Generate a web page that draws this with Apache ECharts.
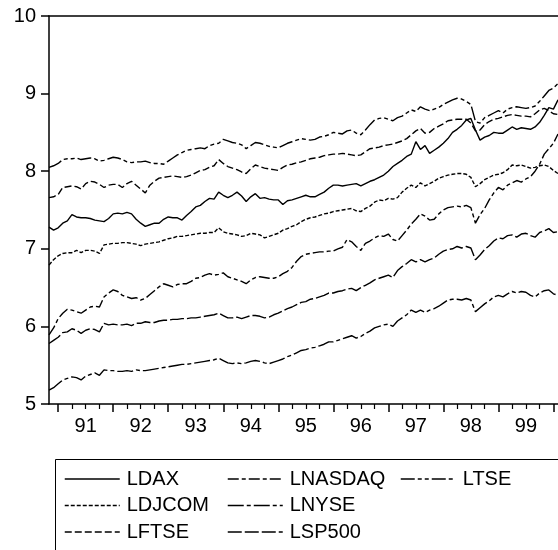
<!DOCTYPE html>
<html>
<head>
<meta charset="utf-8">
<script src="https://cdn.jsdelivr.net/npm/echarts@6/dist/echarts.min.js"></script>
<style>
  html, body { margin: 0; padding: 0; background: #fff; }
  #chart { width: 558px; height: 550px; }
</style>
</head>
<body>
<div id="chart"></div>
<script>
// monthly log index levels, Nov 1990 .. Feb 2000
var startYear = 1990
var startMonth = 11
var yearLabels = ['91', '92', '93', '94', '95', '96', '97', '98', '99']

var LDAX = [
  7.28, 7.24, 7.27, 7.33, 7.36, 7.44, 7.41, 7.40, 7.40, 7.39,
  7.37, 7.36, 7.35, 7.39, 7.45, 7.46, 7.45, 7.47, 7.45, 7.38,
  7.33, 7.29, 7.31, 7.33, 7.33, 7.38, 7.41, 7.40, 7.40, 7.37,
  7.43, 7.48, 7.54, 7.56, 7.61, 7.65, 7.64, 7.73, 7.69, 7.66,
  7.69, 7.73, 7.68, 7.61, 7.67, 7.71, 7.65, 7.66, 7.64, 7.63,
  7.63, 7.57, 7.62, 7.63, 7.65, 7.67, 7.69, 7.67, 7.67, 7.70,
  7.73, 7.78, 7.82, 7.82, 7.81, 7.82, 7.83, 7.84, 7.81, 7.84,
  7.87, 7.89, 7.92, 7.95, 8.00, 8.06, 8.10, 8.14, 8.19, 8.22,
  8.38, 8.28, 8.33, 8.23, 8.27, 8.31, 8.36, 8.42, 8.50, 8.54,
  8.59, 8.66, 8.68, 8.53, 8.40, 8.44, 8.46, 8.50, 8.49, 8.49,
  8.53, 8.57, 8.54, 8.56, 8.55, 8.54, 8.57, 8.63, 8.72, 8.82,
  8.80, 8.92
]
var LDJCOM = [
  6.79, 6.86, 6.91, 6.94, 6.95, 6.95, 6.98, 6.95, 6.98, 6.98,
  6.97, 6.94, 7.05, 7.06, 7.07, 7.07, 7.08, 7.08, 7.07, 7.06,
  7.04, 7.06, 7.07, 7.08, 7.09, 7.11, 7.13, 7.14, 7.16, 7.16,
  7.17, 7.18, 7.19, 7.20, 7.20, 7.21, 7.21, 7.27, 7.22, 7.20,
  7.19, 7.18, 7.16, 7.17, 7.20, 7.19, 7.18, 7.14, 7.16, 7.18,
  7.20, 7.24, 7.26, 7.29, 7.31, 7.35, 7.38, 7.40, 7.41, 7.43,
  7.45, 7.46, 7.48, 7.49, 7.50, 7.51, 7.52, 7.49, 7.48, 7.52,
  7.55, 7.60, 7.63, 7.62, 7.65, 7.64, 7.66, 7.73, 7.78, 7.82,
  7.79, 7.85, 7.81, 7.84, 7.87, 7.91, 7.93, 7.95, 7.96, 7.97,
  7.97, 7.96, 7.92, 7.80, 7.84, 7.89, 7.92, 7.95, 7.96, 7.98,
  8.02, 8.08, 8.07, 8.08, 8.06, 8.04, 8.05, 8.07, 8.08, 8.06,
  8.01, 7.97
]
var LFTSE = [
  7.66, 7.67, 7.70, 7.79, 7.80, 7.81, 7.80, 7.77, 7.84, 7.87,
  7.86, 7.83, 7.79, 7.82, 7.83, 7.83, 7.79, 7.84, 7.87, 7.82,
  7.77, 7.72, 7.82, 7.87, 7.91, 7.92, 7.93, 7.94, 7.93, 7.92,
  7.93, 7.95, 7.98, 8.01, 8.02, 8.05, 8.07, 8.15, 8.10, 8.06,
  8.04, 8.02, 7.99, 7.97, 8.03, 8.08, 8.06, 8.04, 8.03, 8.02,
  8.01, 8.05, 8.08, 8.09, 8.11, 8.12, 8.14, 8.16, 8.17, 8.18,
  8.20, 8.21, 8.22, 8.22, 8.23, 8.22, 8.21, 8.20, 8.21, 8.25,
  8.29, 8.30, 8.31, 8.33, 8.34, 8.35, 8.37, 8.39, 8.42, 8.47,
  8.52, 8.55, 8.49, 8.50, 8.55, 8.58, 8.61, 8.65, 8.66, 8.67,
  8.67, 8.67, 8.62, 8.52, 8.53, 8.60, 8.64, 8.67, 8.68, 8.70,
  8.72, 8.73, 8.72, 8.71, 8.71, 8.70, 8.74, 8.79, 8.81, 8.78,
  8.74, 8.73
]
var LNASDAQ = [
  5.89, 5.98, 6.10, 6.17, 6.22, 6.21, 6.19, 6.17, 6.21, 6.25,
  6.26, 6.25, 6.38, 6.43, 6.47, 6.45, 6.40, 6.38, 6.36, 6.37,
  6.34, 6.36, 6.41, 6.46, 6.51, 6.55, 6.53, 6.51, 6.54, 6.55,
  6.55, 6.58, 6.62, 6.63, 6.66, 6.68, 6.66, 6.67, 6.69, 6.64,
  6.62, 6.60, 6.58, 6.55, 6.60, 6.63, 6.64, 6.63, 6.62, 6.62,
  6.64, 6.68, 6.71, 6.76, 6.84, 6.90, 6.93, 6.94, 6.95, 6.96,
  6.96, 6.97, 6.97, 7.00, 7.02, 7.12, 7.09, 7.03, 6.98, 7.07,
  7.10, 7.14, 7.17, 7.16, 7.19, 7.12, 7.10, 7.17, 7.24, 7.32,
  7.38, 7.45, 7.42, 7.37, 7.38, 7.45, 7.50, 7.53, 7.54, 7.55,
  7.54, 7.56, 7.53, 7.33, 7.44, 7.52, 7.63, 7.72, 7.79, 7.76,
  7.82, 7.85, 7.88, 7.86, 7.90, 7.93, 8.00, 8.09, 8.22, 8.29,
  8.36, 8.48
]
var LNYSE = [
  5.18, 5.21, 5.26, 5.31, 5.33, 5.35, 5.34, 5.31, 5.36, 5.38,
  5.40, 5.37, 5.44, 5.43, 5.43, 5.42, 5.42, 5.43, 5.42, 5.44,
  5.43, 5.43, 5.44, 5.45, 5.46, 5.47, 5.48, 5.49, 5.50, 5.51,
  5.51, 5.52, 5.53, 5.54, 5.55, 5.56, 5.57, 5.59, 5.56, 5.53,
  5.52, 5.53, 5.52, 5.53, 5.55, 5.56, 5.55, 5.53, 5.52, 5.54,
  5.56, 5.58, 5.61, 5.63, 5.66, 5.69, 5.70, 5.72, 5.73, 5.75,
  5.77, 5.80, 5.80, 5.82, 5.84, 5.86, 5.88, 5.85, 5.87, 5.91,
  5.94, 5.98, 6.00, 6.02, 6.03, 6.00, 6.07, 6.11, 6.15, 6.21,
  6.18, 6.21, 6.18, 6.21, 6.23, 6.26, 6.30, 6.34, 6.35, 6.35,
  6.34, 6.36, 6.34, 6.19, 6.24, 6.29, 6.33, 6.38, 6.40, 6.38,
  6.42, 6.45, 6.43, 6.45, 6.44, 6.40, 6.38, 6.43, 6.46, 6.47,
  6.42, 6.40
]
var LSP500 = [
  5.78, 5.82, 5.86, 5.92, 5.93, 5.97, 5.95, 5.91, 5.95, 5.97,
  5.96, 5.93, 6.04, 6.02, 6.03, 6.02, 6.02, 6.03, 6.01, 6.04,
  6.04, 6.06, 6.05, 6.05, 6.07, 6.08, 6.08, 6.09, 6.09, 6.10,
  6.10, 6.11, 6.11, 6.12, 6.13, 6.14, 6.15, 6.17, 6.14, 6.11,
  6.11, 6.12, 6.10, 6.12, 6.14, 6.14, 6.13, 6.11, 6.12, 6.15,
  6.17, 6.20, 6.23, 6.25, 6.28, 6.31, 6.32, 6.35, 6.36, 6.38,
  6.40, 6.43, 6.43, 6.45, 6.46, 6.48, 6.49, 6.46, 6.50, 6.53,
  6.56, 6.60, 6.62, 6.64, 6.66, 6.63, 6.72, 6.77, 6.81, 6.86,
  6.83, 6.86, 6.83, 6.86, 6.88, 6.93, 6.97, 6.99, 7.00, 7.03,
  7.01, 7.03, 7.01, 6.86, 6.92, 6.99, 7.04, 7.10, 7.14, 7.13,
  7.17, 7.18, 7.15, 7.19, 7.20, 7.17, 7.15, 7.21, 7.23, 7.26,
  7.21, 7.22
]
var LTSE = [
  8.05, 8.07, 8.10, 8.15, 8.16, 8.16, 8.17, 8.15, 8.16, 8.17,
  8.16, 8.13, 8.14, 8.16, 8.18, 8.17, 8.15, 8.12, 8.11, 8.12,
  8.12, 8.13, 8.11, 8.10, 8.10, 8.09, 8.13, 8.17, 8.21, 8.24,
  8.27, 8.28, 8.29, 8.30, 8.29, 8.33, 8.35, 8.36, 8.41, 8.39,
  8.37, 8.36, 8.34, 8.29, 8.33, 8.37, 8.36, 8.34, 8.32, 8.31,
  8.30, 8.33, 8.36, 8.38, 8.40, 8.42, 8.41, 8.40, 8.41, 8.44,
  8.45, 8.47, 8.50, 8.49, 8.48, 8.52, 8.53, 8.49, 8.47, 8.53,
  8.60, 8.66, 8.68, 8.69, 8.67, 8.65, 8.69, 8.71, 8.75, 8.79,
  8.77, 8.83, 8.80, 8.78, 8.80, 8.82, 8.86, 8.89, 8.92, 8.94,
  8.93, 8.90, 8.86, 8.64, 8.62, 8.69, 8.72, 8.75, 8.78, 8.75,
  8.80, 8.82, 8.83, 8.82, 8.81, 8.82, 8.84, 8.90, 8.97, 9.04,
  9.07, 9.13
]

// month categories 'YYYY-MM'
var months = []
for (var k = 0; k < LDAX.length; k++) {
  var m = startMonth - 1 + k
  var y = startYear + Math.floor(m / 12)
  var mm = (m % 12) + 1
  months.push(y + '-' + (mm < 10 ? '0' + mm : mm))
}
function monthOf(v) { return v.slice(5) }

var font = 'Liberation Sans'
var seriesDefs = [
  { name: 'LDAX', data: LDAX, dash: 'solid' },
  { name: 'LDJCOM', data: LDJCOM, dash: [4, 2] },
  { name: 'LFTSE', data: LFTSE, dash: [7, 3] },
  { name: 'LNASDAQ', data: LNASDAQ, dash: [11, 3, 4, 3] },
  { name: 'LNYSE', data: LNYSE, dash: [16, 3, 4, 3] },
  { name: 'LSP500', data: LSP500, dash: [14, 3] },
  { name: 'LTSE', data: LTSE, dash: [14, 3, 4, 3, 4, 3] }
]

var chart = echarts.init(document.getElementById('chart'))

function legendCol(left, names) {
  return {
    data: names,
    orient: 'vertical',
    left: left,
    top: 469,
    padding: 0,
    itemWidth: 55,
    itemHeight: 14,
    itemGap: 6.5,
    itemStyle: { opacity: 0 },
    lineStyle: { width: 1.5, color: '#000' },
    textStyle: { color: '#000', fontSize: 20, fontFamily: font, lineHeight: 20, padding: [0, 0, 0, 2] }
  }
}

chart.setOption({
  animation: false,
  backgroundColor: '#fff',
  grid: { left: 49, right: 0, top: 16, bottom: 146 },
  legend: [
    legendCol(64, ['LDAX', 'LDJCOM', 'LFTSE']),
    legendCol(227, ['LNASDAQ', 'LNYSE', 'LSP500']),
    legendCol(400, ['LTSE'])
  ],
  graphic: [{
    type: 'rect',
    shape: { x: 55.5, y: 459.5, width: 520, height: 120 },
    style: { fill: 'none', stroke: '#000', lineWidth: 1 }
  }],
  xAxis: [
    {
      type: 'category',
      data: months,
      boundaryGap: false,
      axisLine: { lineStyle: { color: '#000', width: 1.5 } },
      axisTick: {
        length: 8,
        lineStyle: { color: '#000', width: 1.5 },
        interval: function (i, v) { return monthOf(v) === '01' }
      },
      axisLabel: {
        interval: function (i, v) { return monthOf(v) === '07' },
        formatter: function (v) {
          var yy = v.slice(2, 4)
          return yearLabels.indexOf(yy) >= 0 ? yy : ''
        },
        color: '#000', fontSize: 20, fontFamily: font, margin: 12
      },
      splitLine: { show: false }
    },
    {
      type: 'category',
      data: months,
      boundaryGap: false,
      position: 'bottom',
      axisLine: { show: false },
      axisTick: {
        length: 5,
        lineStyle: { color: '#000', width: 1.2 },
        interval: function (i, v) {
          var mo = monthOf(v)
          return mo === '04' || mo === '07' || mo === '10'
        }
      },
      axisLabel: { show: false },
      splitLine: { show: false }
    },
    {
      type: 'category',
      data: months,
      boundaryGap: false,
      position: 'top',
      axisLine: { lineStyle: { color: '#000', width: 1.5 } },
      axisTick: { show: false },
      axisLabel: { show: false },
      splitLine: { show: false }
    }
  ],
  yAxis: {
    type: 'value',
    min: 5,
    max: 10,
    interval: 1,
    axisLine: { show: true, lineStyle: { color: '#000', width: 1.5 } },
    axisTick: { show: true, length: 8, lineStyle: { color: '#000', width: 1.5 } },
    axisLabel: { color: '#000', fontSize: 20, fontFamily: font, margin: 13 },
    splitLine: { show: false }
  },
  series: seriesDefs.map(function (s) {
    return {
      name: s.name,
      type: 'line',
      data: s.data,
      xAxisIndex: 0,
      symbol: 'none',
      color: '#000',
      lineStyle: { color: '#000', width: 1.4, type: s.dash }
    }
  })
})
</script>
</body>
</html>
